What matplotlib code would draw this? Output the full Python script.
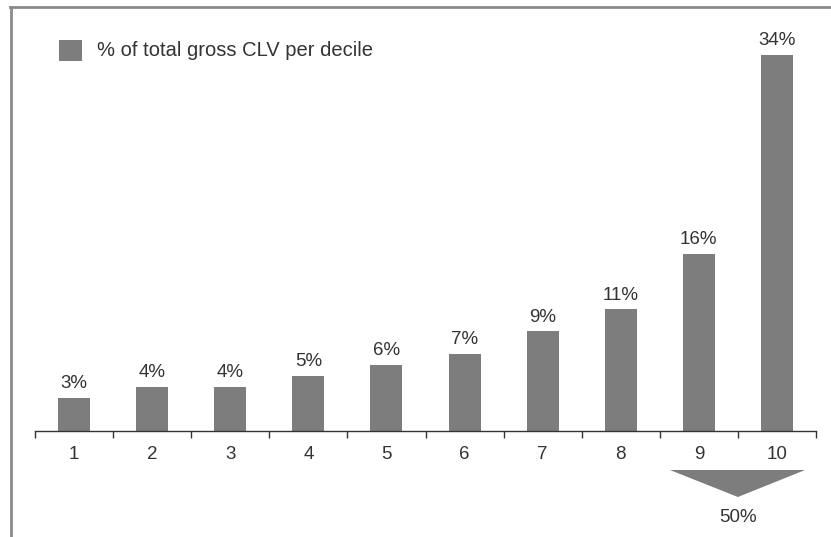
import matplotlib
matplotlib.use("Agg")
import matplotlib.pyplot as plt
from matplotlib.patches import Polygon, Rectangle
from matplotlib.lines import Line2D

plt.rcParams['font.family'] = ['Liberation Sans', 'DejaVu Sans']

deciles = ["1", "2", "3", "4", "5", "6", "7", "8", "9", "10"]
share_pct = [3, 4, 4, 5, 6, 7, 9, 11, 16, 34]
top_two_total = 50
legend_label = "% of total gross CLV per decile"

BAR_COLOR = "#7d7d7d"
TEXT_COLOR = "#333333"
LABEL_SIZE = 13.5
W, H = 831, 537

fig = plt.figure(figsize=(W / 100, H / 100), dpi=100)
fig.patch.set_facecolor("white")

# axes placed in pixel terms: baseline at y=431, x from 35 to 816
ax_left, ax_right, ax_base, ax_top = 35, 816, 431, 7
ax = fig.add_axes([ax_left / W, (H - ax_base) / H,
                   (ax_right - ax_left) / W, (ax_base - ax_top) / H])
px_per_pct = 11.06
ax.set_xlim(0.5, len(deciles) + 0.5)
ax.set_ylim(0, (ax_base - ax_top) / px_per_pct)

xs = list(range(1, len(deciles) + 1))
ax.bar(xs, share_pct, width=0.41, color=BAR_COLOR, zorder=2)
for x, v in zip(xs, share_pct):
    ax.annotate(f"{v}%", (x, v), xytext=(0, 4), textcoords="offset points",
                ha="center", va="bottom", fontsize=LABEL_SIZE, color=TEXT_COLOR)

for s in ["top", "right", "left"]:
    ax.spines[s].set_visible(False)
ax.spines["bottom"].set_color("#333333")
ax.spines["bottom"].set_linewidth(1.0)
ax.set_yticks([])
ax.set_xticks(xs)
ax.set_xticklabels(deciles, fontsize=LABEL_SIZE, color=TEXT_COLOR)
ax.tick_params(axis="x", which="major", length=0, pad=10.5)
ax.set_xticks([x + 0.5 for x in range(0, len(deciles) + 1)], minor=True)
ax.tick_params(axis="x", which="minor", length=5, width=1.0, color="#333333",
               direction="out")

# downward arrow summarising the top two deciles
y_top = -(470 - ax_base) / px_per_pct
y_tip = -(497 - ax_base) / px_per_pct
tri = Polygon([(8.63, y_top), (10.36, y_top), (9.5, y_tip)], closed=True,
              facecolor=BAR_COLOR, edgecolor="none", clip_on=False, zorder=3)
ax.add_patch(tri)
ax.text(9.5, -(518 - ax_base) / px_per_pct, f"{top_two_total}%", ha="center",
        va="center", fontsize=LABEL_SIZE, color=TEXT_COLOR, clip_on=False)

# legend swatch and label
fig.patches.append(Rectangle((59 / W, 1 - 61 / H), 23 / W, 21 / H,
                             transform=fig.transFigure, facecolor=BAR_COLOR,
                             edgecolor="none"))
fig.text(97 / W, 1 - 50 / H, legend_label, ha="left", va="center",
         fontsize=14.5, color=TEXT_COLOR)

# frame lines along top and left edges
frame_kw = dict(transform=fig.transFigure, color="#8a8a8a", linewidth=2.0)
fig.lines.append(Line2D([10 / W, 1.0], [1 - 7 / H, 1 - 7 / H], **frame_kw))
fig.lines.append(Line2D([11 / W, 11 / W], [0.0, 1 - 7 / H], **frame_kw))

fig.savefig("out.png", dpi=100)
